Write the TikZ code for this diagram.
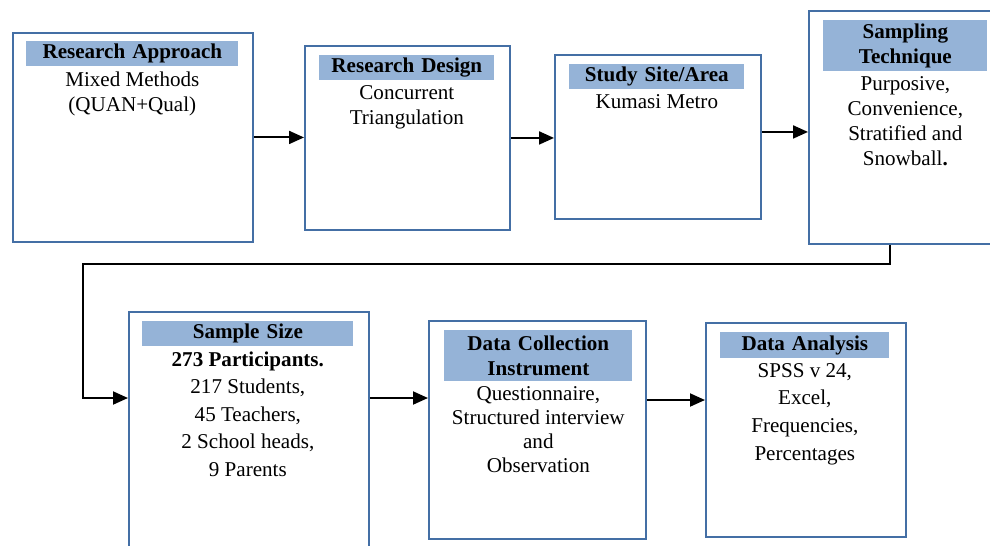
\documentclass[tikz,border=0pt]{standalone}
\usepackage{fontspec}
\setmainfont{Liberation Serif}
\usetikzlibrary{arrows.meta, positioning}
\definecolor{boxblue}{RGB}{68, 111, 165}
\definecolor{headblue}{RGB}{149, 179, 215}
\tikzset{
  >=Triangle,
  flowarrow/.style={-{Triangle[length=3mm, width=2.6mm]}, line width=1.1pt, black}
}

\begin{document}
\begin{tikzpicture}[
    x=0.02cm, y=-0.02cm,
    stage/.style={rectangle, draw=boxblue, line width=1.1pt, anchor=north west, inner sep=0pt},
    head/.style={rectangle, fill=headblue, inner sep=0pt, anchor=north west, align=center, font=\fontsize{12}{14.2}\selectfont\bfseries},
    body/.style={inner sep=0pt, align=center, font=\fontsize{12}{14.2}\selectfont}
]
    \clip (0,0) rectangle (990,545);
    \fill[white] (0,0) rectangle (990,545);

    % first row
    \node[stage, minimum width=4.8cm, minimum height=4.18cm] (approach) at (12,32) {};
    \node[head, text width=4.24cm, minimum height=0.5cm] (approachHead) at (26,41) {Research Approach};
    \node[body, below=2.5pt of approachHead] (approachText) {Mixed Methods\\(QUAN+Qual)};

    \node[stage, minimum width=4.1cm, minimum height=3.68cm] (design) at (304,45) {};
    \node[head, text width=3.5cm, minimum height=0.5cm] (designHead) at (319,55) {Research Design};
    \node[body, below=2.5pt of designHead] (designText) {Concurrent\\Triangulation};

    \node[stage, minimum width=4.12cm, minimum height=3.28cm] (site) at (554,54) {};
    \node[head, text width=3.5cm, minimum height=0.5cm] (siteHead) at (569,64) {Study Site/Area};
    \node[body, below=2.5pt of siteHead] (siteText) {Kumasi Metro};

    \node[stage, minimum width=4.0cm, minimum height=4.66cm] (sampling) at (808,10) {};
    \node[head, text width=3.28cm, minimum height=1.02cm] (samplingHead) at (823,20) {Sampling\\Technique};
    \node[body, below=2.5pt of samplingHead] (samplingText) {Purposive,\\Convenience,\\Stratified and\\Snowball\textbf{.}};

    % second row
    \node[stage, minimum width=4.8cm, minimum height=5.0cm] (size) at (128,311) {};
    \node[head, text width=4.22cm, minimum height=0.5cm] (sizeHead) at (142,321) {Sample Size};
    \node[body, below=2.5pt of sizeHead, font=\fontsize{12}{15.7}\selectfont] (sizeText) {\textbf{273 Participants.}\\217 Students,\\45 Teachers,\\2 School heads,\\9 Parents};

    \node[stage, minimum width=4.34cm, minimum height=4.36cm] (instrument) at (428,320) {};
    \node[head, text width=3.76cm, minimum height=1.02cm] (instrumentHead) at (444,330) {Data Collection\\Instrument};
    \node[body, below=2.5pt of instrumentHead, font=\fontsize{12}{13.6}\selectfont] (instrumentText) {Questionnaire,\\Structured interview\\and\\Observation};

    \node[stage, minimum width=4.0cm, minimum height=4.28cm] (analysis) at (705,322) {};
    \node[head, text width=3.38cm, minimum height=0.52cm] (analysisHead) at (720,332) {Data Analysis};
    \node[body, below=2.5pt of analysisHead, font=\fontsize{12}{15.7}\selectfont] (analysisText) {SPSS v 24,\\Excel,\\Frequencies,\\Percentages};

    \draw[flowarrow] (approach.east) -- (approach.east -| design.west);
    \draw[flowarrow] (design.east) -- (design.east -| site.west);
    \draw[flowarrow] ([yshift=0.1cm]site.east) -- ([yshift=0.1cm]site.east -| sampling.west);

    % link down to second row
    \coordinate (drop) at (890,264);
    \coordinate (entry) at (83,398);
    \draw[flowarrow] (sampling.south -| drop) -- (drop) -| (entry) -- (entry -| size.west);
    \draw[flowarrow] (entry -| size.east) -- (entry -| instrument.west);
    \draw[flowarrow] ([yshift=-0.04cm]entry -| instrument.east) -- ([yshift=-0.04cm]entry -| analysis.west);
\end{tikzpicture}
\end{document}
